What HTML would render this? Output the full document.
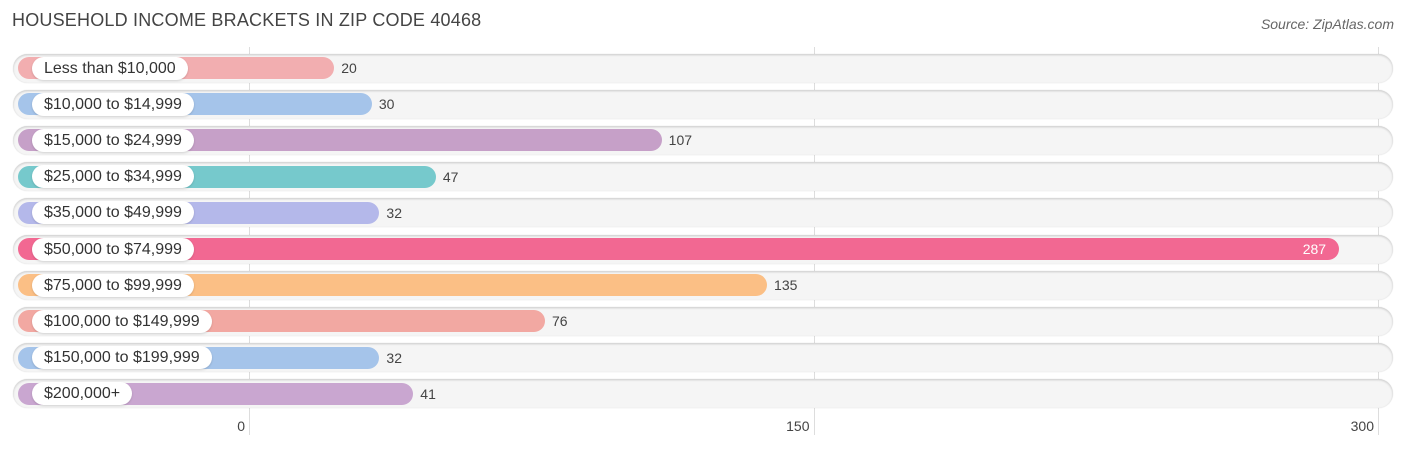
<!DOCTYPE html>
<html><head><meta charset="utf-8"><style>
body{margin:0;background:#fff;font-family:"Liberation Sans",sans-serif;}
#c{position:relative;width:1406px;height:450px;overflow:hidden;}
.t{position:absolute;left:12px;top:10px;font-size:18px;color:#444;letter-spacing:0.2px}
.s{position:absolute;right:12px;top:16px;font-size:14px;color:#666;font-style:italic}
.grid{position:absolute;top:47px;height:388px;width:1px;background:#ddd}
.tick{position:absolute;top:418px;font-size:14px;color:#444;transform:translateX(-100%)}
.track{position:absolute;left:13px;width:1380px;height:29px;border-radius:15px;background:#f5f5f5;box-shadow:inset 0 1px 2px rgba(0,0,0,.18),0 0 1px rgba(0,0,0,.15)}
.bar{position:absolute;left:18px;height:22px;border-radius:11px}
.lab{position:absolute;left:32px;height:23px;line-height:23px;padding:0 12px;background:#fff;border-radius:12px;font-size:16px;color:#333;box-shadow:0 1px 2px rgba(0,0,0,.15)}
.val{position:absolute;font-size:14px;color:#444;line-height:22px}
</style></head><body>
<div id="c">
<div class="t">HOUSEHOLD INCOME BRACKETS IN ZIP CODE 40468</div>
<div class="s">Source: ZipAtlas.com</div>
</div>
<script>
const categories=["Less than $10,000","$10,000 to $14,999","$15,000 to $24,999","$25,000 to $34,999","$35,000 to $49,999","$50,000 to $74,999","$75,000 to $99,999","$100,000 to $149,999","$150,000 to $199,999","$200,000+"];
const values=[20,30,107,47,32,287,135,76,32,41];
const colors=["#f2aeb0","#a5c4ea","#c6a0c8","#76c9cc","#b4b8ea","#f26892","#fbbf85","#f2a8a2","#a5c4ea","#c9a6d0"];
const ticks=[0,150,300];
const c=document.getElementById('c');
const x0=249,k=(1378-249)/300;
const xs=v=>x0+v*k;
ticks.forEach(t=>{
 const g=document.createElement('div');g.className='grid';g.style.left=xs(t)+'px';
 
 
 c.appendChild(g);
});
categories.forEach((cat,i)=>{
 const cy=68+i*36.2;
 const tr=document.createElement('div');tr.className='track';tr.style.top=(cy-14.5)+'px';
 
 
 c.appendChild(tr);
 const b=document.createElement('div');b.className='bar';b.style.top=(cy-11)+'px';
 const end=xs(values[i])+10;b.style.width=(end-18)+'px';b.style.background=colors[i];
 
 
 c.appendChild(b);
 const l=document.createElement('div');l.className='lab';l.style.top=(cy-11.5)+'px';l.textContent=cat;
 
 
 c.appendChild(l);
 const v=document.createElement('div');v.className='val';v.style.top=(cy-11)+'px';v.textContent=values[i];
 
 
 if(values[i]>250){v.style.left=(end-13)+'px';v.style.transform='translateX(-100%)';v.style.color='#fff';}
 else v.style.left=(end+7)+'px';
 c.appendChild(v);
});
ticks.forEach(t=>{
 const e=document.createElement('div');e.className='tick';e.style.left=(xs(t)-4)+'px';e.textContent=t;
 
 
 c.appendChild(e);
});
</script>
</body></html>
